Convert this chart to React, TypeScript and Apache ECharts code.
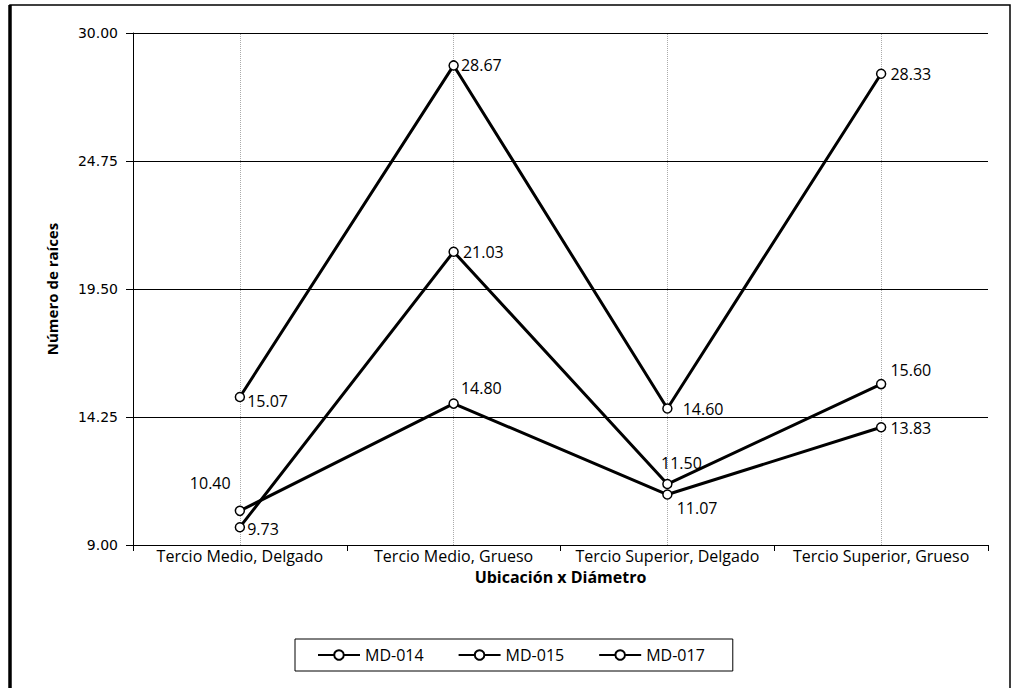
import React, { useEffect, useRef } from "react";
import * as echarts from "echarts";

// Categories (location x diameter) and root counts per clone
const categories = [
  "Tercio Medio, Delgado",
  "Tercio Medio, Grueso",
  "Tercio Superior, Delgado",
  "Tercio Superior, Grueso",
];
const seriesNames = ["MD-014", "MD-015", "MD-017"];
const md014 = [15.07, 28.67, 14.6, 28.33];
const md015 = [9.73, 21.03, 11.5, 15.6];
const md017 = [10.4, 14.8, 11.07, 13.83];
const yTicks = [9, 14.25, 19.5, 24.75, 30];

// Label placement for each point (position, [dx, dy])
type Place = [string, [number, number]];
const place014: Place[] = [
  ["right", [-2, 4]],
  ["right", [-2, 0]],
  ["right", [6, 1]],
  ["right", [0, 0]],
];
const place015: Place[] = [
  ["right", [-2, 2]],
  ["right", [0, 0]],
  ["top", [14, -4]],
  ["right", [0, -14]],
];
const place017: Place[] = [
  ["left", [0, -28]],
  ["right", [-2, -16]],
  ["right", [0, 13]],
  ["right", [0, 1]],
];

const FONT = "'Open Sans', 'Noto Sans', sans-serif";

function build(values: number[], places: Place[]) {
  return values.map((v, i) => ({
    value: v,
    label: { position: places[i][0], offset: places[i][1] },
  }));
}

export default function App() {
  const ref = useRef<HTMLDivElement>(null);

  useEffect(() => {
    if (!ref.current) return;
    const chart = echarts.init(ref.current, null, { renderer: "svg" });

    const baseSeries = (name: string, values: number[], places: Place[]) => ({
      name,
      type: "line",
      data: build(values, places),
      symbol: "circle",
      symbolSize: 9,
      showSymbol: true,
      lineStyle: { color: "#000", width: 3 },
      itemStyle: { color: "#fff", borderColor: "#000", borderWidth: 1.5 },
      label: {
        show: true,
        color: "#000",
        fontFamily: FONT,
        fontSize: 16,
        distance: 4,
        formatter: (p: any) => Number(p.value).toFixed(2),
      },
      emphasis: { disabled: true },
      z: 3,
    });

    const series: any[] = [
      baseSeries(seriesNames[0], md014, place014),
      baseSeries(seriesNames[1], md015, place015),
      baseSeries(seriesNames[2], md017, place017),
    ];
    // faint dotted guides at each category
    series[0].markLine = {
      silent: true,
      symbol: "none",
      label: { show: false },
      lineStyle: { color: "#aaa", type: "dotted", width: 1 },
      data: categories.map((c) => ({ xAxis: c })),
      z: 1,
    };

    chart.setOption({
      animation: false,
      backgroundColor: "#fff",
      grid: { left: 133, right: 27, top: 33, bottom: 143 },
      xAxis: {
        type: "category",
        data: categories,
        boundaryGap: true,
        name: "Ubicación x Diámetro",
        nameLocation: "middle",
        nameGap: 22,
        nameTextStyle: {
          fontFamily: FONT,
          fontSize: 16,
          fontWeight: "bold",
          color: "#000",
          verticalAlign: "top",
        },
        axisLine: { lineStyle: { color: "#000", width: 1 } },
        axisTick: { show: true, length: 6, lineStyle: { color: "#000" } },
        axisLabel: {
          color: "#000",
          fontFamily: FONT,
          fontSize: 16,
          margin: 3,
          interval: 0,
        },
        splitLine: { show: false },
      },
      yAxis: {
        type: "value",
        min: 9,
        max: 30,
        name: "Número de raíces",
        nameLocation: "middle",
        nameGap: 74,
        nameTextStyle: {
          fontFamily: FONT,
          fontSize: 15,
          fontWeight: "bold",
          color: "#000",
        },
        axisLine: { show: true, lineStyle: { color: "#000", width: 1 } },
        axisTick: {
          show: true,
          length: 7,
          customValues: yTicks,
          lineStyle: { color: "#000" },
        },
        axisLabel: {
          customValues: yTicks,
          color: "#000",
          fontFamily: "'DejaVu Sans', Verdana, sans-serif",
          fontSize: 14,
          margin: 15,
          formatter: (v: number) => v.toFixed(2),
        },
        splitLine: { show: true, lineStyle: { color: "#000", width: 1 } },
      },
      legend: {
        data: seriesNames,
        left: 295,
        top: 639,
        orient: "horizontal",
        padding: [8, 28, 8, 22],
        itemWidth: 42,
        itemHeight: 12,
        itemGap: 34,
        borderColor: "#000",
        borderWidth: 1,
        textStyle: { color: "#000", fontFamily: FONT, fontSize: 16 },
      },
      graphic: [
        {
          type: "rect",
          shape: { x: 10, y: 5, width: 1000, height: 700 },
          style: { fill: "none", stroke: "#000", lineWidth: 1.5 },
          silent: true,
        },
        {
          type: "line",
          shape: { x1: 10, y1: 5, x2: 10, y2: 688 },
          style: { stroke: "#000", lineWidth: 3.5 },
          silent: true,
        },
      ],
      series,
    });

    return () => chart.dispose();
  }, []);

  return (
    <div
      ref={ref}
      style={{ position: "absolute", left: 0, top: 0, width: 1015, height: 688 }}
    />
  );
}
